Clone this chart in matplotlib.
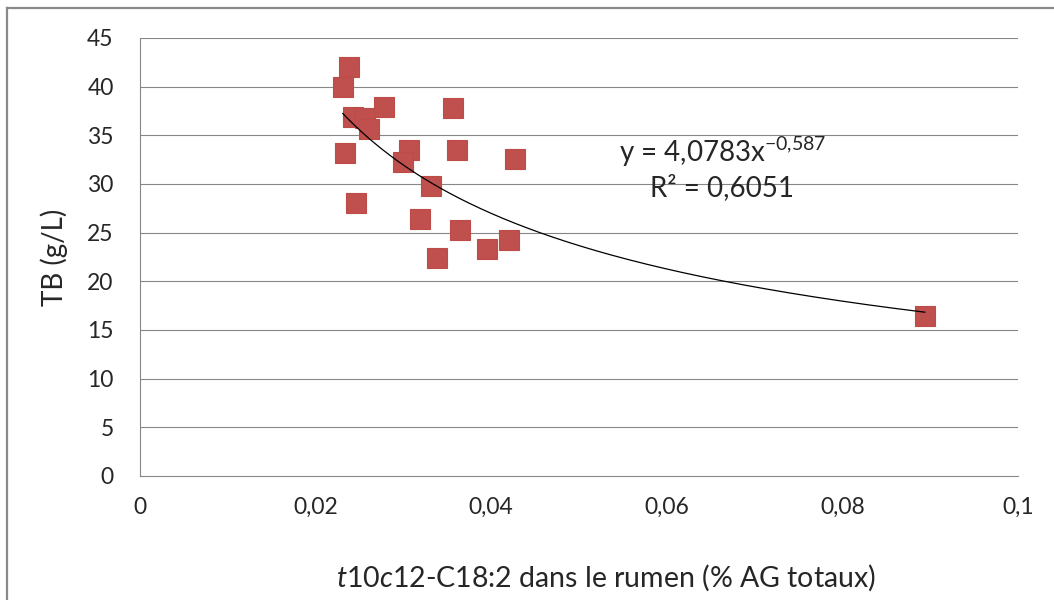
import numpy as np
import matplotlib
matplotlib.use("Agg")
import matplotlib.pyplot as plt
from matplotlib.lines import Line2D

plt.rcParams['font.family'] = ['Lato', 'DejaVu Sans']
plt.rcParams['mathtext.fontset'] = 'custom'
plt.rcParams['mathtext.rm'] = 'Lato'
plt.rcParams['mathtext.it'] = 'Lato:italic'

# Data
x_vals = [0.0238, 0.0231, 0.0243, 0.0256, 0.0278, 0.0261, 0.0356, 0.0234,
          0.0306, 0.0300, 0.0361, 0.0427, 0.0331, 0.0246, 0.0319, 0.0364,
          0.0338, 0.0395, 0.0420, 0.0894]
y_vals = [42.0, 40.0, 36.9, 36.8, 37.9, 35.6, 37.8, 33.2,
          33.5, 32.3, 33.5, 32.6, 29.8, 28.0, 26.4, 25.3,
          22.4, 23.3, 24.2, 16.4]

coef_a = 4.0783
coef_b = -0.587

x_ticks = [0, 0.02, 0.04, 0.06, 0.08, 0.1]
x_tick_labels = ['0', '0,02', '0,04', '0,06', '0,08', '0,1']
y_ticks = [0, 5, 10, 15, 20, 25, 30, 35, 40, 45]

W, H = 1054, 600
fig = plt.figure(figsize=(W / 100, H / 100), dpi=100)
ax = fig.add_axes([140 / W, 1 - 476 / H, (1018 - 140) / W, (476 - 38) / H])

grid_c = '#868686'
for yv in y_ticks[1:]:
    ax.axhline(yv, color=grid_c, lw=0.8, zorder=1)

ax.plot(x_vals, y_vals, linestyle='none', marker='s', markersize=15,
        color='#C0504D', mec='#BE4B48', mew=0.8, zorder=3)

xt = np.linspace(min(x_vals), max(x_vals), 200)
ax.plot(xt, coef_a * xt ** coef_b, color='black', lw=0.9, zorder=4)

ax.set_xlim(0, 0.1)
ax.set_ylim(0, 45)
ax.set_xticks(x_ticks)
ax.set_xticklabels(x_tick_labels)
ax.set_yticks(y_ticks)
ax.set_yticklabels([str(v) for v in y_ticks])
ax.tick_params(axis='both', length=0, labelsize=16.5, colors='#262626')
ax.tick_params(axis='y', pad=19)
ax.tick_params(axis='x', pad=15)

for s in ['top', 'right']:
    ax.spines[s].set_visible(False)
for s in ['left', 'bottom']:
    ax.spines[s].set_color(grid_c)
    ax.spines[s].set_linewidth(0.8)

ax.text(723 / W, 1 - 152 / H, r"y = 4,0783x$^{\mathrm{-}0{,}587}$", transform=fig.transFigure,
        ha='center', va='center', fontsize=20, color='#262626', zorder=5)
ax.text(722 / W, 1 - 188 / H, "R² = 0,6051", transform=fig.transFigure,
        ha='center', va='center', fontsize=20, color='#262626', zorder=5)

fig.text(54 / W, 1 - 257 / H, "TB (g/L)", rotation=90, ha='center', va='center',
         fontsize=20, color='#262626')
fig.text(606 / W, 1 - 578 / H, r"$\mathit{t}$10$\mathit{c}$12-C18:2 dans le rumen (% AG totaux)",
         ha='center', va='center', fontsize=20.5, color='#262626')

# chart frame
fig.add_artist(Line2D([7 / W, 7 / W], [0, 1 - 8 / H], transform=fig.transFigure,
                      color='#8a8a8a', lw=1.6))
fig.add_artist(Line2D([7 / W, 1], [1 - 8 / H, 1 - 8 / H], transform=fig.transFigure,
                      color='#8a8a8a', lw=1.6))

fig.savefig('out.png', dpi=100)
